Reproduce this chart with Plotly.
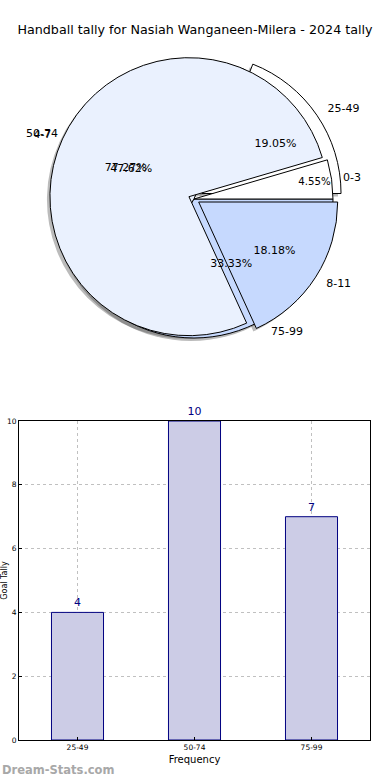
import plotly.graph_objects as go

title = "Handball tally for Nasiah Wanganeen-Milera - 2024 tally"

# Pie A: goal ranges
pie_a_labels = ["25-49", "50-74", "75-99"]
pie_a_values = [4, 10, 7]
pie_a_pull = [0.07, 0, 0]
# Pie B: second tally
pie_b_labels = ["0-3", "4-7", "8-11"]
pie_b_values = [1, 17, 4]
pie_b_pull = [0, 0.04, 0.04]

# Bar chart
bar_cats = ["25-49", "50-74", "75-99"]
bar_vals = [4, 10, 7]
y_ticks = [0, 2, 4, 6, 8, 10]

pie_colors = ["#ffffff", "#eaf1fe", "#c6d9fe"]
FONT = "DejaVu Sans"

# plot area in pixels
W, H = 390, 780
ML, MR, MT, MB = 19, 20, 0, 40
PW, PH = W - ML - MR, H - MT - MB
# pie geometry (pixels)
CX, CY, R = 194, 199, 139


def pie_domain(pull, r=R, dx=0, dy=0):
    half = r * (1 + max(pull))
    cx, cy = CX + dx, CY + dy
    x0 = (cx - half - ML) / PW
    x1 = (cx + half - ML) / PW
    y0 = (H - MB - (cy + half)) / PH
    y1 = (H - MB - (cy - half)) / PH
    return dict(x=[x0, x1], y=[y0, y1])


def start_rotation(values):
    # matplotlib style: first slice starts at 3 o'clock and runs counterclockwise
    return 90 - 360 * values[0] / sum(values)


fig = go.Figure()


def pie_kwargs(labels, values, pull, **dom):
    return dict(labels=labels, values=values, sort=False, direction="counterclockwise",
                rotation=start_rotation(values), pull=pull,
                domain=pie_domain(pull, **dom), showlegend=False)


pies = [(pie_a_labels, pie_a_values, pie_a_pull),
        (pie_b_labels, pie_b_values, pie_b_pull)]

# drop shadows
for labels, values, pull in pies:
    fig.add_trace(go.Pie(**pie_kwargs(labels, values, pull, dx=-3, dy=3),
                         marker=dict(colors=["rgba(60,60,60,0.35)"] * 3, line=dict(width=0)),
                         textinfo="none", hoverinfo="skip"))

# filled wedges
for labels, values, pull in pies:
    fig.add_trace(go.Pie(**pie_kwargs(labels, values, pull),
                         marker=dict(colors=pie_colors, line=dict(color="#000000", width=1)),
                         textinfo="none", hoverinfo="label+percent"))

# texts on top of all wedges
for labels, values, pull in pies:
    fig.add_trace(go.Pie(**pie_kwargs(labels, values, pull),
                         marker=dict(colors=["rgba(0,0,0,0)"] * 3, line=dict(width=0)),
                         texttemplate="%{percent:.2%}", textposition="inside",
                         insidetextorientation="horizontal",
                         textfont=dict(family=FONT, size=11, color="#000000"),
                         hoverinfo="skip"))
    fig.add_trace(go.Pie(**pie_kwargs(labels, values, pull, r=R * 1.06),
                         marker=dict(colors=["rgba(0,0,0,0)"] * 3, line=dict(width=0)),
                         texttemplate="%{label}", textposition="outside",
                         textfont=dict(family=FONT, size=11, color="#000000"),
                         hoverinfo="skip"))

fig.add_trace(go.Bar(
    x=bar_cats, y=bar_vals, width=0.445,
    marker=dict(color="#cccce6", line=dict(color="#000080", width=1)),
    text=[str(v) for v in bar_vals], textposition="outside", cliponaxis=False,
    textfont=dict(family=FONT, size=11, color="#000080"),
    xaxis="x", yaxis="y", showlegend=False, hoverinfo="x+y"))

fig.update_layout(
    width=W, height=H,
    margin=dict(l=ML, r=MR, t=MT, b=MB),
    paper_bgcolor="white", plot_bgcolor="white",
    title=dict(text=title, x=0.5, xref="container", xanchor="center",
               y=1 - 30 / H, yref="container", yanchor="middle",
               font=dict(family=FONT, size=12.7, color="#000000")),
    xaxis=dict(domain=[0, 1], anchor="y", range=[-0.5, 2.5], showgrid=True,
               gridcolor="#c0c0c0", griddash="dot", gridwidth=1,
               showline=True, linecolor="black", mirror=True,
               ticks="inside", ticklen=3, tickcolor="black",
               tickfont=dict(family=FONT, size=7.5, color="#000000"),
               automargin=False,
               title=dict(text="Frequency", standoff=4,
                          font=dict(family=FONT, size=10, color="#000000"))),
    yaxis=dict(domain=[0, (H - MB - 421) / PH], anchor="x", range=[0, 10],
               tickvals=y_ticks, showgrid=True,
               gridcolor="#c0c0c0", griddash="dot", gridwidth=1,
               showline=True, linecolor="black", mirror=True, zeroline=False,
               ticks="inside", ticklen=3, tickcolor="black",
               tickfont=dict(family=FONT, size=7.5, color="#000000"),
               automargin=False,
               title=dict(text="Goal Tally", standoff=0,
                          font=dict(family=FONT, size=8, color="#000000"))),
    annotations=[dict(text="<b>Dream-Stats.com</b>", xref="paper", yref="paper",
                      x=-ML / PW, y=-30 / PH, xanchor="left", yanchor="middle",
                      showarrow=False,
                      font=dict(family=FONT, size=11.5, color="#a8a8a8"))],
)

fig.write_html("out.html", config={"displayModeBar": False},
               post_script="document.body.style.margin='0';")
